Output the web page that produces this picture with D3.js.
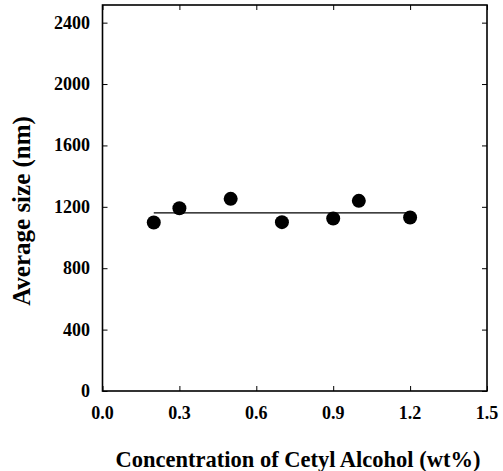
<!DOCTYPE html>
<html>
<head>
<meta charset="utf-8">
<script src="https://cdn.jsdelivr.net/npm/d3@7"></script>
<style>
  body { margin: 0; background: #fff; }
  svg text { font-family: "Liberation Serif", "Times New Roman", serif; font-weight: bold; fill: #000; }
</style>
</head>
<body>
<svg id="chart" width="503" height="471"></svg>
<script>
// concentration (wt%) and measured average size (nm)
let conc = [0.2, 0.3, 0.5, 0.7, 0.9, 1.0, 1.2]
let size = [1098, 1191, 1252, 1100, 1124, 1239, 1130]
// fitted mean line
let fitX = [0.2, 1.2]
let fitY = [1160, 1160]
let xTicks = [0.0, 0.3, 0.6, 0.9, 1.2, 1.5]
let yTicks = [0, 400, 800, 1200, 1600, 2000, 2400]

let svg = d3.select('#chart')

let plotL = 102.5, plotR = 487, plotT = 5, plotB = 391

let x = d3.scaleLinear().domain([0, 1.5]).range([plotL, plotR])
let y = d3.scaleLinear().domain([0, 2515]).range([plotB, plotT])

// inward ticks on all four sides
let tickLen = 5
let noDomain = g => g.select('.domain').remove()

svg.append('g')
    .attr('transform', `translate(0,${plotB})`)
    .call(d3.axisTop(x).tickValues(xTicks).tickSize(tickLen).tickFormat(''))
    .call(noDomain)
svg.append('g')
    .attr('transform', `translate(0,${plotT})`)
    .call(d3.axisBottom(x).tickValues(xTicks).tickSize(tickLen).tickFormat(''))
    .call(noDomain)
svg.append('g')
    .attr('transform', `translate(${plotL},0)`)
    .call(d3.axisRight(y).tickValues(yTicks).tickSize(tickLen).tickFormat(''))
    .call(noDomain)
svg.append('g')
    .attr('transform', `translate(${plotR},0)`)
    .call(d3.axisLeft(y).tickValues(yTicks).tickSize(tickLen).tickFormat(''))
    .call(noDomain)

svg.selectAll('.tick line').attr('stroke', '#000').attr('stroke-width', 1)

// frame
svg.append('rect')
    .attr('x', plotL).attr('y', plotT)
    .attr('width', plotR - plotL).attr('height', plotB - plotT)
    .attr('fill', 'none').attr('stroke', '#000').attr('stroke-width', 1.6)

// tick labels
svg.selectAll('.xlab')
    .data(xTicks)
    .enter().append('text')
    .attr('class', 'xlab')
    .attr('x', d => x(d))
    .attr('y', 419)
    .attr('text-anchor', 'middle')
    .attr('font-size', 18)
    .text(d => d3.format('.1f')(d))

svg.selectAll('.ylab')
    .data(yTicks)
    .enter().append('text')
    .attr('class', 'ylab')
    .attr('x', 90)
    .attr('y', d => y(d) + 6)
    .attr('text-anchor', 'end')
    .attr('font-size', 18)
    .text(d => d)

// axis titles
svg.append('text')
    .attr('x', 298)
    .attr('y', 467)
    .attr('text-anchor', 'middle')
    .attr('font-size', 22.5)
    .text('Concentration of Cetyl Alcohol (wt%)')

svg.append('text')
    .attr('transform', 'translate(30,211) rotate(-90)')
    .attr('text-anchor', 'middle')
    .attr('font-size', 25)
    .text('Average size (nm)')

// mean line
let line = d3.line().x(d => x(d[0])).y(d => y(d[1]))
svg.append('path')
    .datum(fitX.map((d, i) => [d, fitY[i]]))
    .attr('d', line)
    .attr('fill', 'none')
    .attr('stroke', '#000')
    .attr('stroke-width', 1.2)

// points
svg.selectAll('.pt')
    .data(conc)
    .enter().append('circle')
    .attr('class', 'pt')
    .attr('cx', d => x(d))
    .attr('cy', (d, i) => y(size[i]))
    .attr('r', 7)
    .attr('fill', '#000')
</script>
</body>
</html>
